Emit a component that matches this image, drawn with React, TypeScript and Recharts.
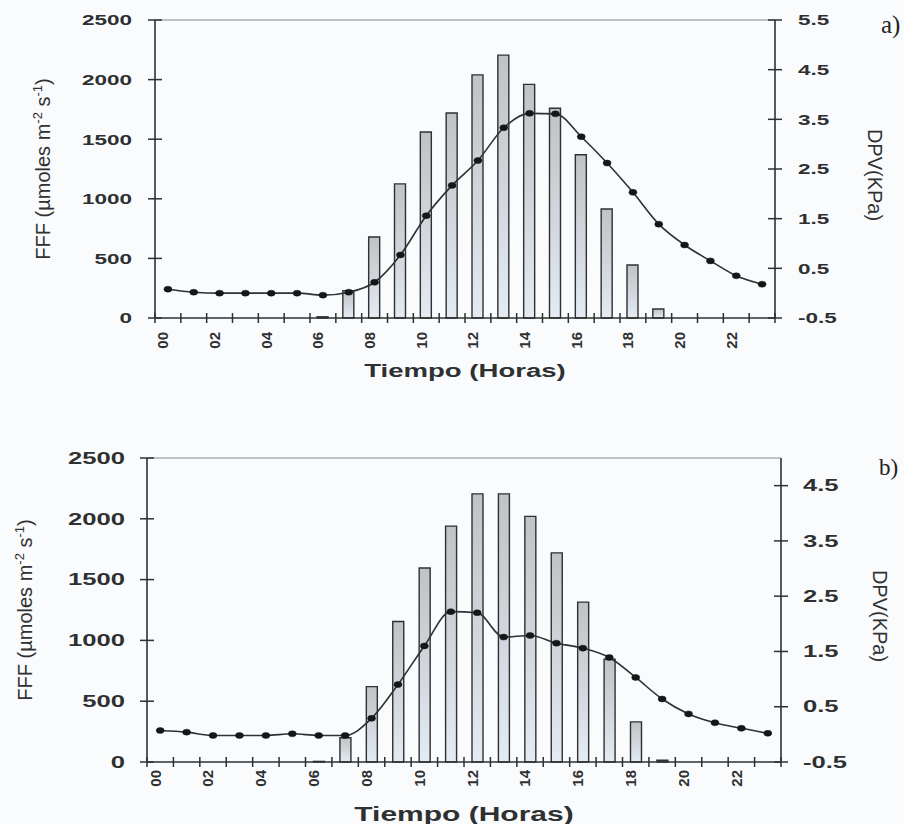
import React from 'react';
import { ComposedChart, Bar, Line, XAxis, YAxis, ReferenceLine } from 'recharts';

// Hour of day (each value fills the interval [h, h+1))
const hours = [0, 1, 2, 3, 4, 5, 6, 7, 8, 9, 10, 11, 12, 13, 14, 15, 16, 17, 18, 19, 20, 21, 22, 23];

// Panel a) — photosynthetic photon flux (bars) and vapour pressure deficit (line)
const ppfA = [0, 0, 0, 0, 0, 0, 10, 230, 680, 1125, 1560, 1720, 2040, 2205, 1960, 1760, 1370, 915, 445, 75, 0, 0, 0, 0];
const dpvA = [0.08, 0.02, 0.0, 0.0, 0.0, 0.0, -0.04, 0.02, 0.22, 0.77, 1.56, 2.17, 2.67, 3.33, 3.62, 3.61, 3.15, 2.62, 2.03, 1.39, 0.97, 0.65, 0.35, 0.18];

// Panel b)
const ppfB = [0, 0, 0, 0, 0, 0, 5, 200, 620, 1155, 1595, 1940, 2205, 2205, 2020, 1720, 1315, 845, 330, 15, 0, 0, 0, 0];
const dpvB = [0.07, 0.04, -0.02, -0.02, -0.02, 0.01, -0.02, -0.02, 0.29, 0.9, 1.6, 2.22, 2.2, 1.76, 1.79, 1.65, 1.56, 1.39, 1.03, 0.64, 0.37, 0.21, 0.11, 0.02];

// Axis ticks
const hourMarks = [0, 1, 2, 3, 4, 5, 6, 7, 8, 9, 10, 11, 12, 13, 14, 15, 16, 17, 18, 19, 20, 21, 22, 23, 24];
const labelHours = [0, 2, 4, 6, 8, 10, 12, 14, 16, 18, 20, 22];
const hourLabels = ['00', '02', '04', '06', '08', '10', '12', '14', '16', '18', '20', '22'];
const ppfTicks = [0, 500, 1000, 1500, 2000, 2500];
const dpvTicksA = [-0.5, 0.5, 1.5, 2.5, 3.5, 4.5, 5.5];
const dpvTicksB = [-0.5, 0.5, 1.5, 2.5, 3.5, 4.5];

const INK = '#2e3032';
const SANS = '"Liberation Sans", Arial, Helvetica, sans-serif';
const SERIF = '"Liberation Serif", "Times New Roman", serif';

// Tick marks sit on the hour boundaries, labels in the middle of each even hour
const labelPositions = labelHours.map((h) => h + 0.5);
const xTicks = [...hourMarks, ...labelPositions].sort((p, q) => p - q);

const makeHourTick = (gap: number, fontSize: number) => (props: any) => {
  const { x, y, payload } = props;
  const v = payload.value as number;
  const idx = labelPositions.indexOf(v);
  if (idx < 0) {
    // crossing tick mark on an hour boundary
    return <path d={`M${x},${y - 5}V${y + 5}`} stroke={INK} strokeWidth={1.5} fill="none" />;
  }
  const lx = x - 5;
  const ly = y + gap;
  return (
    <text
      x={lx}
      y={ly}
      transform={`rotate(-90 ${lx} ${ly})`}
      textAnchor="end"
      dy="0.36em"
      fontFamily={SANS}
      fontWeight="bold"
      fontSize={fontSize}
      fill={INK}
    >
      {hourLabels[idx]}
    </text>
  );
};

const makeValueTick = (side: 'left' | 'right', gap: number, fontSize: number, stretch: number) => (props: any) => {
  const { x, y, payload } = props;
  const tx = side === 'left' ? x - gap : x + gap;
  return (
    <g>
      <path d={`M${x - 7},${y}H${x + 7}`} stroke={INK} strokeWidth={1.5} fill="none" />
      <g transform={`translate(${tx},${y}) scale(${stretch},1)`}>
        <text
          x={0}
          y={0}
          dy="0.36em"
          textAnchor={side === 'left' ? 'end' : 'start'}
          fontFamily={SANS}
          fontWeight="bold"
          fontSize={fontSize}
          fill={INK}
        >
          {String(payload.value)}
        </text>
      </g>
    </g>
  );
};

const makeTimeTitle = (dy: number, fontSize: number, stretch: number) => (props: any) => {
  const vb = props.viewBox;
  const cx = vb.x + vb.width / 2;
  const cy = vb.y + dy;
  return (
    <g transform={`translate(${cx},${cy}) scale(${stretch},1)`}>
      <text x={0} y={0} dy="0.36em" textAnchor="middle" fontFamily={SANS} fontWeight="bold" fontSize={fontSize} fill={INK}>
        Tiempo (Horas)
      </text>
    </g>
  );
};

const makePpfTitle = (dx: number) => (props: any) => {
  const vb = props.viewBox;
  const cx = vb.x + dx;
  const cy = vb.y + vb.height / 2;
  return (
    <text
      x={cx}
      y={cy}
      transform={`rotate(-90 ${cx} ${cy})`}
      textAnchor="middle"
      dy="0.36em"
      fontFamily={SANS}
      fontSize={20}
      fill={INK}
    >
      FFF (µmoles m<tspan dy={-8} fontSize={13}>-2</tspan>
      <tspan dy={8}> s</tspan>
      <tspan dy={-8} fontSize={13}>-1</tspan>
      <tspan dy={8}>)</tspan>
    </text>
  );
};

const makeDpvTitle = (dx: number, dy: number) => (props: any) => {
  const vb = props.viewBox;
  const cx = vb.x + dx;
  const cy = vb.y + vb.height / 2 + dy;
  return (
    <text
      x={cx}
      y={cy}
      transform={`rotate(90 ${cx} ${cy})`}
      textAnchor="middle"
      dy="0.36em"
      fontFamily={SANS}
      fontSize={20}
      fill={INK}
    >
      DPV(KPa)
    </text>
  );
};

const renderDot = (props: any) => {
  const { cx, cy, index } = props;
  if (cx == null || cy == null) return <g key={`d-${index}`} />;
  return <ellipse key={`d-${index}`} cx={cx} cy={cy} rx={4} ry={3} fill="#151617" stroke="#151617" strokeWidth={0.5} />;
};

type PanelProps = {
  id: string;
  top: number;
  height: number;
  marginTop: number;
  leftWidth: number;
  rightWidth: number;
  bottomHeight: number;
  ppf: number[];
  dpv: number[];
  dpvTicks: number[];
  dpvDomain: [number, number];
  hourGap: number;
  valueFont: number;
  valueStretch: number;
  valueGap: number;
  timeFont: number;
  timeStretch: number;
  ppfTitleDx: number;
  dpvTitleDx: number;
  dpvTitleDy: number;
};

function Panel(p: PanelProps) {
  const rows = hours.map((h, i) => ({ x: h + 0.5, ppf: p.ppf[i], dpv: p.dpv[i] }));
  const gradId = `barFill-${p.id}`;
  return (
    <div style={{ position: 'absolute', left: 0, top: p.top }}>
      <ComposedChart width={904} height={p.height} data={rows} margin={{ top: p.marginTop, right: 0, bottom: 0, left: 0 }}>
        <defs>
          <linearGradient id={gradId} x1="0" y1="0" x2="0" y2="1">
            <stop offset="0%" stopColor="#c0c3c6" />
            <stop offset="55%" stopColor="#d2d8de" />
            <stop offset="100%" stopColor="#e4ebf2" />
          </linearGradient>
        </defs>
        <XAxis
          type="number"
          dataKey="x"
          domain={[0, 24]}
          ticks={xTicks}
          interval={0}
          tickLine={false}
          tickSize={0}
          tickMargin={0}
          tick={makeHourTick(p.hourGap, 15)}
          axisLine={{ stroke: INK, strokeWidth: 1.4 }}
          height={p.bottomHeight}
          label={makeTimeTitle(52, p.timeFont, p.timeStretch)}
        />
        <YAxis
          yAxisId="ppf"
          orientation="left"
          domain={[0, 2500]}
          ticks={ppfTicks}
          interval={0}
          width={p.leftWidth}
          tickLine={false}
          tickSize={0}
          tickMargin={0}
          tick={makeValueTick('left', p.valueGap, p.valueFont, p.valueStretch)}
          axisLine={{ stroke: INK, strokeWidth: 1.6 }}
          label={makePpfTitle(p.ppfTitleDx)}
        />
        <YAxis
          yAxisId="dpv"
          orientation="right"
          domain={p.dpvDomain}
          ticks={p.dpvTicks}
          interval={0}
          width={p.rightWidth}
          tickLine={false}
          tickSize={0}
          tickMargin={0}
          tick={makeValueTick('right', p.valueGap, p.valueFont, p.valueStretch)}
          axisLine={{ stroke: INK, strokeWidth: 1.6 }}
          label={makeDpvTitle(p.dpvTitleDx, p.dpvTitleDy)}
        />
        <ReferenceLine yAxisId="ppf" y={2500} stroke="#85888b" strokeWidth={1.1} />
        <Bar
          yAxisId="ppf"
          dataKey="ppf"
          barSize={11}
          fill={`url(#${gradId})`}
          stroke={INK}
          strokeWidth={1.4}
          isAnimationActive={false}
        />
        <Line
          yAxisId="dpv"
          dataKey="dpv"
          type="monotone"
          stroke={INK}
          strokeWidth={1.6}
          dot={renderDot}
          activeDot={false}
          isAnimationActive={false}
        />
      </ComposedChart>
    </div>
  );
}

export default function App() {
  return (
    <div style={{ position: 'absolute', left: 0, top: 0, width: 904, height: 824, background: '#fafbfc', overflow: 'hidden' }}>
      <Panel
        id="a"
        top={0}
        height={410}
        marginTop={20}
        leftWidth={155}
        rightWidth={129}
        bottomHeight={92}
        ppf={ppfA}
        dpv={dpvA}
        dpvTicks={dpvTicksA}
        dpvDomain={[-0.5, 5.5]}
        hourGap={14}
        valueFont={15}
        valueStretch={1.5}
        valueGap={23}
        timeFont={19}
        timeStretch={1.45}
        ppfTitleDx={43}
        dpvTitleDx={100}
        dpvTitleDy={6}
      />
      <Panel
        id="b"
        top={420}
        height={404}
        marginTop={38}
        leftWidth={147}
        rightWidth={123}
        bottomHeight={62}
        ppf={ppfB}
        dpv={dpvB}
        dpvTicks={dpvTicksB}
        dpvDomain={[-0.5, 5]}
        hourGap={8}
        valueFont={16}
        valueStretch={1.6}
        valueGap={22}
        timeFont={20}
        timeStretch={1.5}
        ppfTitleDx={25}
        dpvTitleDx={99}
        dpvTitleDy={6}
      />
      <div style={{ position: 'absolute', left: 881, top: 12, fontFamily: SERIF, fontSize: 25, color: '#222', lineHeight: 1 }}>a)</div>
      <div style={{ position: 'absolute', left: 879, top: 456, fontFamily: SERIF, fontSize: 23, color: '#222', lineHeight: 1 }}>b)</div>
    </div>
  );
}
